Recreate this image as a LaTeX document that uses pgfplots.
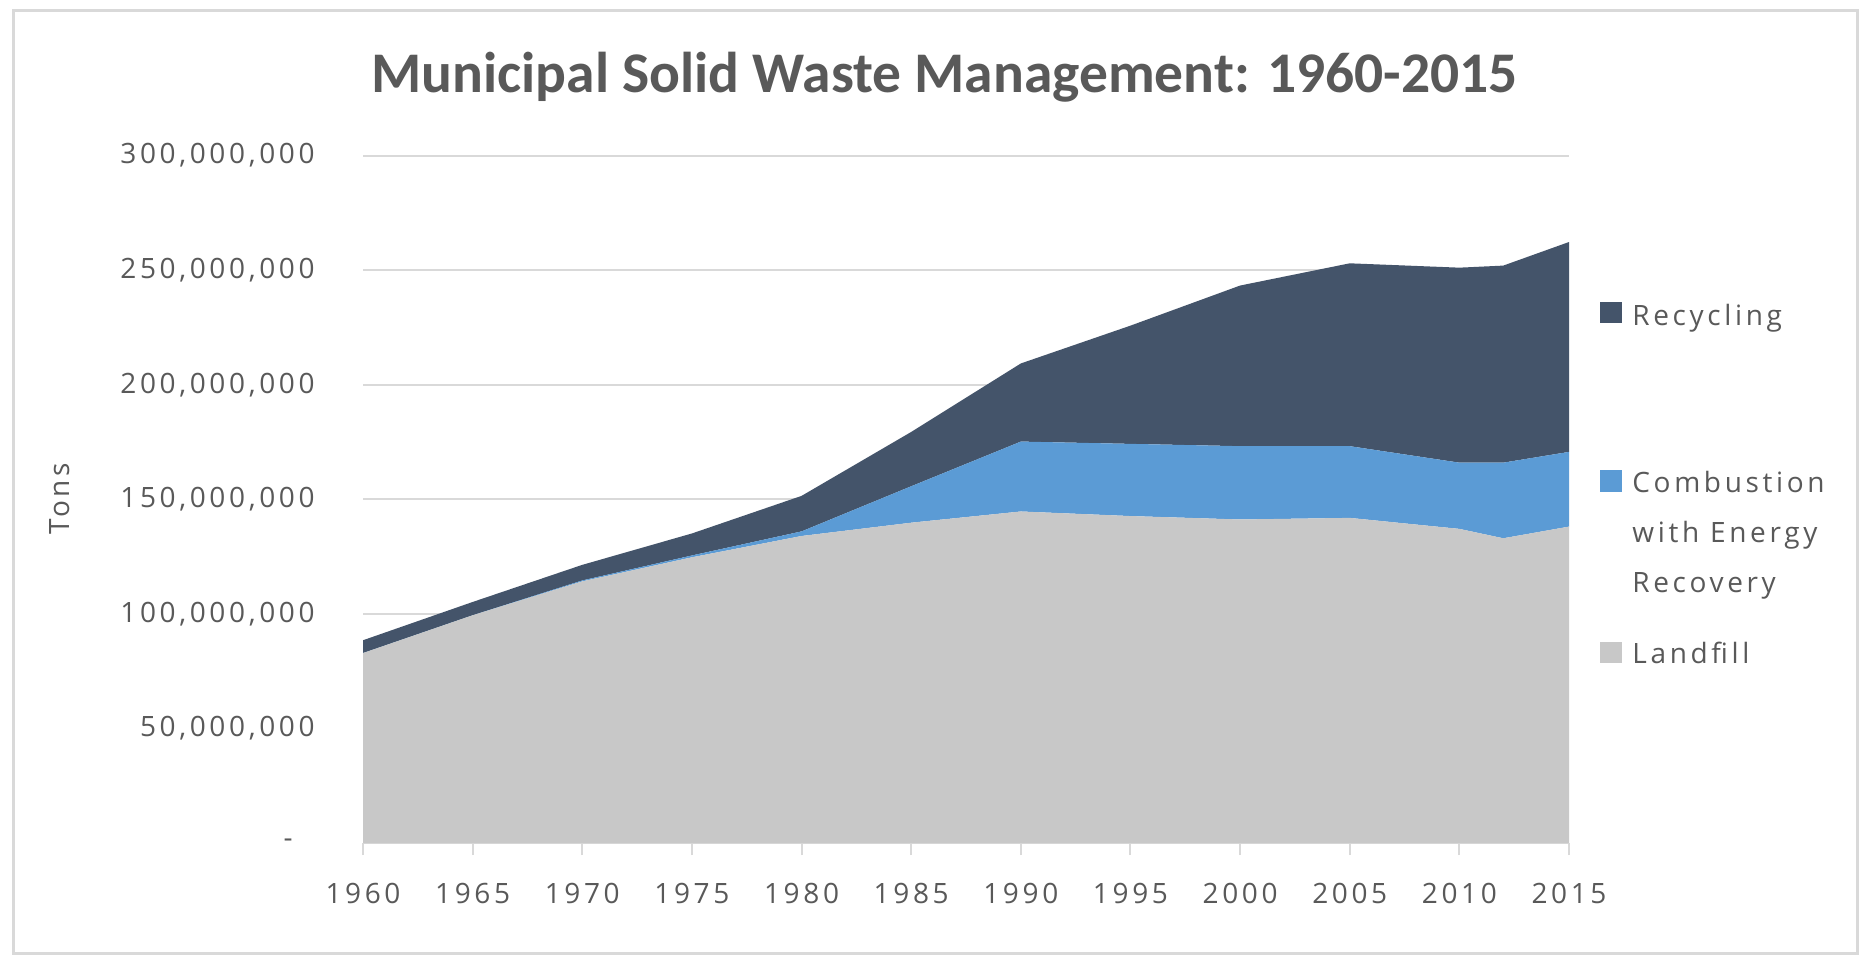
\documentclass[border=0pt]{standalone}
\usepackage{pgfplots}
\pgfplotsset{compat=1.18}
\usepackage{fontspec}
\setmainfont{Open Sans}[LetterSpace=13]
\newfontfamily\titlefont{Carlito}
\definecolor{txt}{HTML}{595959}
\definecolor{recy}{HTML}{44546A}
\definecolor{comb}{HTML}{5B9BD5}
\definecolor{land}{HTML}{C8C8C8}
\definecolor{gridc}{HTML}{D9D9D9}
\newcommand{\lbl}{\fontsize{14bp}{25bp}\selectfont}
\begin{document}
\begin{tikzpicture}
\begin{scope}[x=0.5bp,y=-0.5bp]
\useasboundingbox (0,0) rectangle (1862,957);
\fill[white] (0,0) rectangle (1862,957);
\draw[gridc, line width=1.5bp] (13,10) rectangle (1857,953);
\node[font=\titlefont\bfseries\fontsize{28.75bp}{30bp}\selectfont, text=txt, anchor=base, inner sep=0pt] at (944.7,92.5) {Municipal Solid Waste Management: 1960-2015};
\node[rotate=90, font=\lbl, text=txt, inner sep=0pt] at (60,499) {Tons};
% legend
\fill[recy] (1600,302) rectangle (1622,323);
\node[anchor=base west, font=\lbl, text=txt, inner sep=0pt] at (1632,325) {Recycling};
\fill[comb] (1600,470) rectangle (1622,492);
\node[anchor=base west, font=\lbl, text=txt, inner sep=0pt] at (1632,492) {Combustion};
\node[anchor=base west, font=\lbl, text=txt, inner sep=0pt] at (1632,542) {with Energy};
\node[anchor=base west, font=\lbl, text=txt, inner sep=0pt] at (1632,592) {Recovery};
\fill[land] (1600,642) rectangle (1622,663);
\node[anchor=base west, font=\lbl, text=txt, inner sep=0pt] at (1632,663) {Landfill};
\end{scope}
\begin{axis}[
  at={(181.5bp,-421.5bp)}, anchor=south west,
  scale only axis, width=603bp, height=343.7bp,
  xmin=1960, xmax=2015, ymin=0, ymax=300,
  stack plots=y,
  axis x line*=bottom, axis y line*=left,
  x axis line style={draw=gridc, line width=1bp, -},
  y axis line style={draw=none},
  xtick={1960,1965,...,2015},
  xticklabels={1960,1965,1970,1975,1980,1985,1990,1995,2000,2005,2010,2015},
  ytick={0,50,100,150,200,250,300},
  yticklabels={{-\rule{11bp}{0pt}},{50,000,000},{100,000,000},{150,000,000},{200,000,000},{250,000,000},{300,000,000}},
  ymajorgrids, grid style={gridc, line width=1bp},
  tick align=outside, major tick length=6bp,
  xtick style={draw=gridc, line width=1bp},
  ytick style={draw=none},
  tick label style={font=\lbl, text=txt},
  xticklabel style={anchor=north, inner sep=0pt, yshift=-14bp},
  yticklabel style={anchor=east, inner sep=0pt, xshift=-18bp},
  clip=false,
]
\addplot[fill=land, draw=none] coordinates {
(1960,82.9) (1965,99.4) (1970,114.2) (1975,124.7) (1980,134.0) (1985,139.8) (1990,144.7)
(1995,142.7) (2000,141.2) (2005,141.9) (2010,137.1) (2012,133.0) (2015,138.1)} \closedcycle;
\addplot[fill=comb, draw=none] coordinates {
(1960,0) (1965,0) (1970,0.4) (1975,0.8) (1980,2.0) (1985,15.9) (1990,30.5)
(1995,31.5) (2000,32.0) (2005,31.3) (2010,28.9) (2012,33.0) (2015,32.6)} \closedcycle;
\addplot[fill=recy, draw=none] coordinates {
(1960,5.6) (1965,5.8) (1970,6.8) (1975,9.6) (1980,15.5) (1985,23.7) (1990,34.1)
(1995,51.6) (2000,70.1) (2005,79.8) (2010,85.1) (2012,86.0) (2015,91.6)} \closedcycle;
\end{axis}
\end{tikzpicture}
\end{document}
